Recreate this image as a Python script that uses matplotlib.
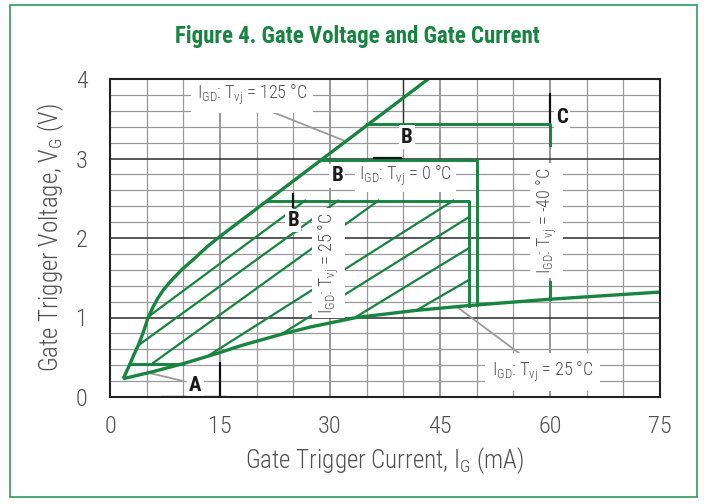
import matplotlib
matplotlib.use("Agg")
import matplotlib.pyplot as plt
from matplotlib import font_manager
from matplotlib.patches import Rectangle

names = {f.name for f in font_manager.fontManager.ttflist}
NARROW = next((n for n in ["Roboto Condensed", "Liberation Sans Narrow", "Open Sans Condensed",
                           "Liberation Sans"] if n in names), "DejaVu Sans")

plt.rcParams['font.family'] = [NARROW, 'DejaVu Sans']
plt.rcParams['mathtext.fontset'] = 'custom'
plt.rcParams['mathtext.rm'] = NARROW + ':light'
plt.rcParams['mathtext.it'] = NARROW + ':italic'
plt.rcParams['mathtext.bf'] = NARROW + ':bold'

# ---------------- data ----------------
title = "Figure 4. Gate Voltage and Gate Current"
x_ticks = [0, 15, 30, 45, 60, 75]
y_ticks = [0, 1, 2, 3, 4]

# upper limit curve
upper_x = [1.8, 2.5, 3.2, 3.9, 4.6, 5.2, 5.8, 6.5, 7.3, 8.5, 10.0, 11.5, 12.3, 13.5, 15.0, 43.4]
upper_y = [0.23, 0.37, 0.52, 0.66, 0.83, 1.00, 1.12, 1.24, 1.35, 1.48, 1.62, 1.74, 1.81, 1.91, 2.02, 4.00]

# lower limit curve (I_GD Tvj = 25 °C)
lower_x = [1.8, 5.9, 10.0, 13.6, 15.0, 18.0, 23.4, 27.3, 33.6, 41.8, 48.9, 60.0, 75.0]
lower_y = [0.23, 0.32, 0.42, 0.52, 0.56, 0.65, 0.79, 0.88, 1.00, 1.09, 1.15, 1.23, 1.32]

# region A : horizontal at 0.42 V
a_line_x = [2.95, 10.0]
a_line_y = [0.42, 0.42]

# region B, Tvj = 25 °C
b25_x = [21.6, 48.9, 48.9]
b25_y = [2.47, 2.47, 1.15]
# region B, Tvj = 0 °C
b0_x = [28.9, 50.0, 50.0]
b0_y = [2.98, 2.98, 1.16]
# region C, Tvj = -40 °C
c_x = [35.0, 60.0, 60.0]
c_y = [3.44, 3.44, 3.17]
c_low_x = [60.0, 60.0]
c_low_y = [1.45, 1.23]

# hatch lines (start x, start y, end x, end y)
hatch_x0 = [5.22, 3.86, 5.90, 13.6, 23.2, 33.6, 41.8]
hatch_y0 = [1.01, 0.65, 0.43, 0.53, 0.78, 1.01, 1.09]
hatch_x1 = [26.6, 31.1, 36.6, 46.8, 48.9, 48.9, 48.9]
hatch_y1 = [2.47, 2.47, 2.47, 2.47, 2.26, 1.87, 1.47]

# black markers
black_segs = [
    ([7.0, 16.0], [0.0, 0.0]),
    ([15.0, 15.0], [0.0, 0.44]),
    ([24.9, 24.9], [2.38, 2.56]),
    ([35.9, 39.8], [3.01, 3.01]),
    ([60.0, 60.0], [3.45, 3.82]),
]

# gray leader lines
leaders = [
    ([20.9, 31.8], [3.63, 3.23]),
    ([47.5, 56.1], [1.12, 0.53]),
    ([5.45, 9.78], [0.30, 0.205]),
]

GREEN = '#17843f'
TXT = '#505050'

fig = plt.figure(figsize=(7.04, 5.04), dpi=100)
fig.patches.append(Rectangle((10 / 704, 7 / 504), 687 / 704, 492 / 504, transform=fig.transFigure,
                             fill=False, edgecolor='#2f9a5c', linewidth=1.2))
fig.text(357 / 704, 1 - 37 / 504, title, ha='center', va='center', color=GREEN,
         fontsize=16.5, fontweight='bold', family=[NARROW, 'DejaVu Sans'])

ax = fig.add_axes([110 / 704, 1 - 397 / 504, 550 / 704, 318 / 504])
ax.set_xlim(0, 75)
ax.set_ylim(0, 4)

# grid
for xv in range(5, 75, 5):
    major = xv % 15 == 0
    ax.plot([xv, xv], [0, 4], color='#7a7a7a' if major else '#9a9a9a',
            lw=1.1 if major else 0.9, zorder=1)
for i in range(1, 20):
    yv = i * 0.2
    major = i % 5 == 0
    ax.plot([0, 75], [yv, yv], color='#2a2a2a' if major else '#9a9a9a',
            lw=1.1 if major else 0.9, zorder=1)
ax.plot([40, 40], [3.44, 4.0], color='#333333', lw=1.0, zorder=1.5)

# curves
ax.plot(upper_x, upper_y, color=GREEN, lw=2.4, zorder=5, solid_capstyle='butt')
ax.plot(lower_x, lower_y, color=GREEN, lw=2.4, zorder=5, solid_capstyle='butt')
ax.plot(a_line_x, a_line_y, color=GREEN, lw=2.1, zorder=5)
ax.plot(b25_x, b25_y, color=GREEN, lw=2.1, zorder=5)
ax.plot(b0_x, b0_y, color=GREEN, lw=2.1, zorder=5)
ax.plot(c_x, c_y, color=GREEN, lw=2.1, zorder=5)
ax.plot(c_low_x, c_low_y, color=GREEN, lw=2.1, zorder=5)
for x0, y0, x1, y1 in zip(hatch_x0, hatch_y0, hatch_x1, hatch_y1):
    ax.plot([x0, x1], [y0, y1], color=GREEN, lw=1.6, zorder=3)

for xs, ys in black_segs:
    ax.plot(xs, ys, color='#111111', lw=1.6, zorder=6, solid_capstyle='butt')
for xs, ys in leaders:
    ax.plot(xs, ys, color='#9a9a9a', lw=1.3, zorder=2)
ax.plot([24.5, 26.1], [2.03, 2.10], color='#7fbf8f', lw=1.3, zorder=2)

box = dict(facecolor='white', edgecolor='none', pad=3)
lab_kw = dict(color=TXT, fontsize=13, fontweight='light', ha='center', va='center', zorder=4)
ax.text(19.4, 3.80, r'I$_\mathrm{GD}$: T$_\mathrm{vj}$ = 125 °C',
        bbox=dict(facecolor='white', edgecolor='none', pad=4), **lab_kw)
ax.text(40.3, 2.78, r'I$_\mathrm{GD}$: T$_\mathrm{vj}$ = 0 °C', bbox=box, **lab_kw)
ax.text(29.8, 1.68, r'I$_\mathrm{GD}$: T$_\mathrm{vj}$ = 25 °C', rotation=90, bbox=box, **lab_kw)
ax.text(59.55, 2.22, r'I$_\mathrm{GD}$: T$_\mathrm{vj}$ = -40 °C', rotation=90, bbox=box, **lab_kw)
ax.text(59.0, 0.32, r'I$_\mathrm{GD}$: T$_\mathrm{vj}$ = 25 °C',
        bbox=dict(facecolor='white', edgecolor='none', pad=5), **lab_kw)

bold_kw = dict(color='#1a1a1a', fontsize=15, fontweight='bold', ha='center', va='center', zorder=7)
halo = dict(facecolor='white', edgecolor='none', pad=1.5)
ax.text(11.66, 0.14, 'A', bbox=halo, **bold_kw)
ax.text(25.0, 2.22, 'B', bbox=halo, **bold_kw)
ax.text(31.0, 2.78, 'B', bbox=halo, **bold_kw)
ax.text(40.46, 3.27, 'B', bbox=halo, **bold_kw)
ax.text(61.6, 3.52, 'C', bbox=halo, **bold_kw)

ax.set_xticks(x_ticks)
ax.set_yticks(y_ticks)
ax.tick_params(length=0, labelsize=17.5, labelcolor=TXT, pad=13)
ax.tick_params(axis='y', pad=16)
for lbl in ax.get_xticklabels() + ax.get_yticklabels():
    lbl.set_fontweight('light')
for s in ax.spines.values():
    s.set_color('#222222')
    s.set_linewidth(1.5)
    s.set_zorder(8)

ax.set_xlabel(r'Gate Trigger Current, I$_\mathrm{G}$ (mA)', fontsize=18, fontweight='light',
              color=TXT, labelpad=5)
ax.set_ylabel(r'Gate Trigger Voltage, V$_\mathrm{G}$ (V)', fontsize=18, fontweight='light',
              color=TXT, labelpad=7)

fig.savefig('out.png', dpi=100)
